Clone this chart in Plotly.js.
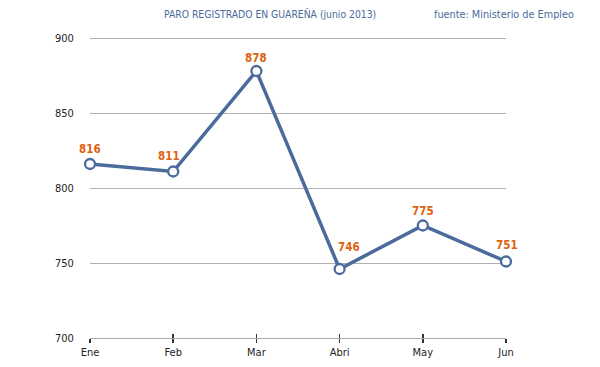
<!DOCTYPE html>
<html><head><meta charset="utf-8">
<script src="https://cdn.plot.ly/plotly-3.0.1.min.js"></script>
<style>html,body{margin:0;padding:0;background:#fff}</style>
</head><body><div id="chart" style="width:600px;height:367px"></div>
<script>
const months = ["Ene","Feb","Mar","Abri","May","Jun"];
const paro = [816, 811, 878, 746, 775, 751];
const yTicks = [700, 750, 800, 850, 900];
const titleText = "PARO REGISTRADO EN GUAREÑA (junio 2013)";
const sourceText = "fuente: Ministerio de Empleo";

// label placement offsets (pixels), styling only
const labelDx = [0, -4, 0, 9, 0, 1];
const labelDy = [15, 16, 13, 22, 15, 17];

const FONT = "DejaVu Sans Condensed, DejaVu Sans, sans-serif";
const BLUE = "#4a6b9c";
const ORANGE = "#e0620f";

const trace = {
  x: months, y: paro, type: "scatter", mode: "lines+markers",
  line: {color: BLUE, width: 3.5},
  marker: {size: 10, color: "#ffffff", line: {color: BLUE, width: 2.3}},
  cliponaxis: false, hoverinfo: "none"
};
const ghost = {x: months, y: paro, xaxis: "x2", yaxis: "y", type: "scatter", mode: "none", hoverinfo: "none", showlegend: false};

const labels = months.map((m, i) => ({
  x: m, y: paro[i], xref: "x", yref: "y", text: String(paro[i]),
  showarrow: false, xanchor: "center", yanchor: "middle",
  xshift: labelDx[i], yshift: labelDy[i],
  font: {family: FONT, size: 11.5, color: ORANGE, weight: "bold"}
}));

const layout = {
  width: 600, height: 367,
  margin: {l: 90, r: 94, t: 35, b: 29},
  paper_bgcolor: "#fff", plot_bgcolor: "#fff",
  showlegend: false,
  font: {family: FONT, size: 11, color: "#222"},
  xaxis: {
    type: "category", range: [0, 5], showgrid: false, zeroline: false,
    showline: true, linecolor: "#aaa", linewidth: 1,
    ticks: "outside", ticklen: 4, tickcolor: "#333", tickwidth: 1.5,
    tickfont: {family: FONT, size: 11, color: "#222"}
  },
  xaxis2: {
    type: "category", range: [0, 5], overlaying: "x", showgrid: false, zeroline: false,
    showline: false, ticks: "inside", ticklen: 4, tickcolor: "#333", tickwidth: 1.5,
    showticklabels: false
  },
  yaxis: {
    range: [700, 902], tickvals: yTicks, ticktext: yTicks.map(String),
    showgrid: true, gridcolor: "#b0b0b0", gridwidth: 1, zeroline: false,
    showline: false, ticks: "outside", ticklen: 13, tickcolor: "rgba(0,0,0,0)",
    tickfont: {family: FONT, size: 11, color: "#222"}
  },
  annotations: [
    {text: titleText, xref: "paper", yref: "paper", x: 0.433, y: 1, yshift: 21, xanchor: "center", yanchor: "middle",
     showarrow: false, font: {family: FONT, size: 10.3, color: BLUE}},
    {text: sourceText, xref: "paper", yref: "paper", x: 1, xshift: 70, y: 1, yshift: 21, xanchor: "right", yanchor: "middle",
     showarrow: false, font: {family: FONT, size: 10.8, color: BLUE}}
  ].concat(labels)
};
Plotly.newPlot("chart", [ghost, trace], layout, {displayModeBar: false, staticPlot: true});
</script></body></html>
